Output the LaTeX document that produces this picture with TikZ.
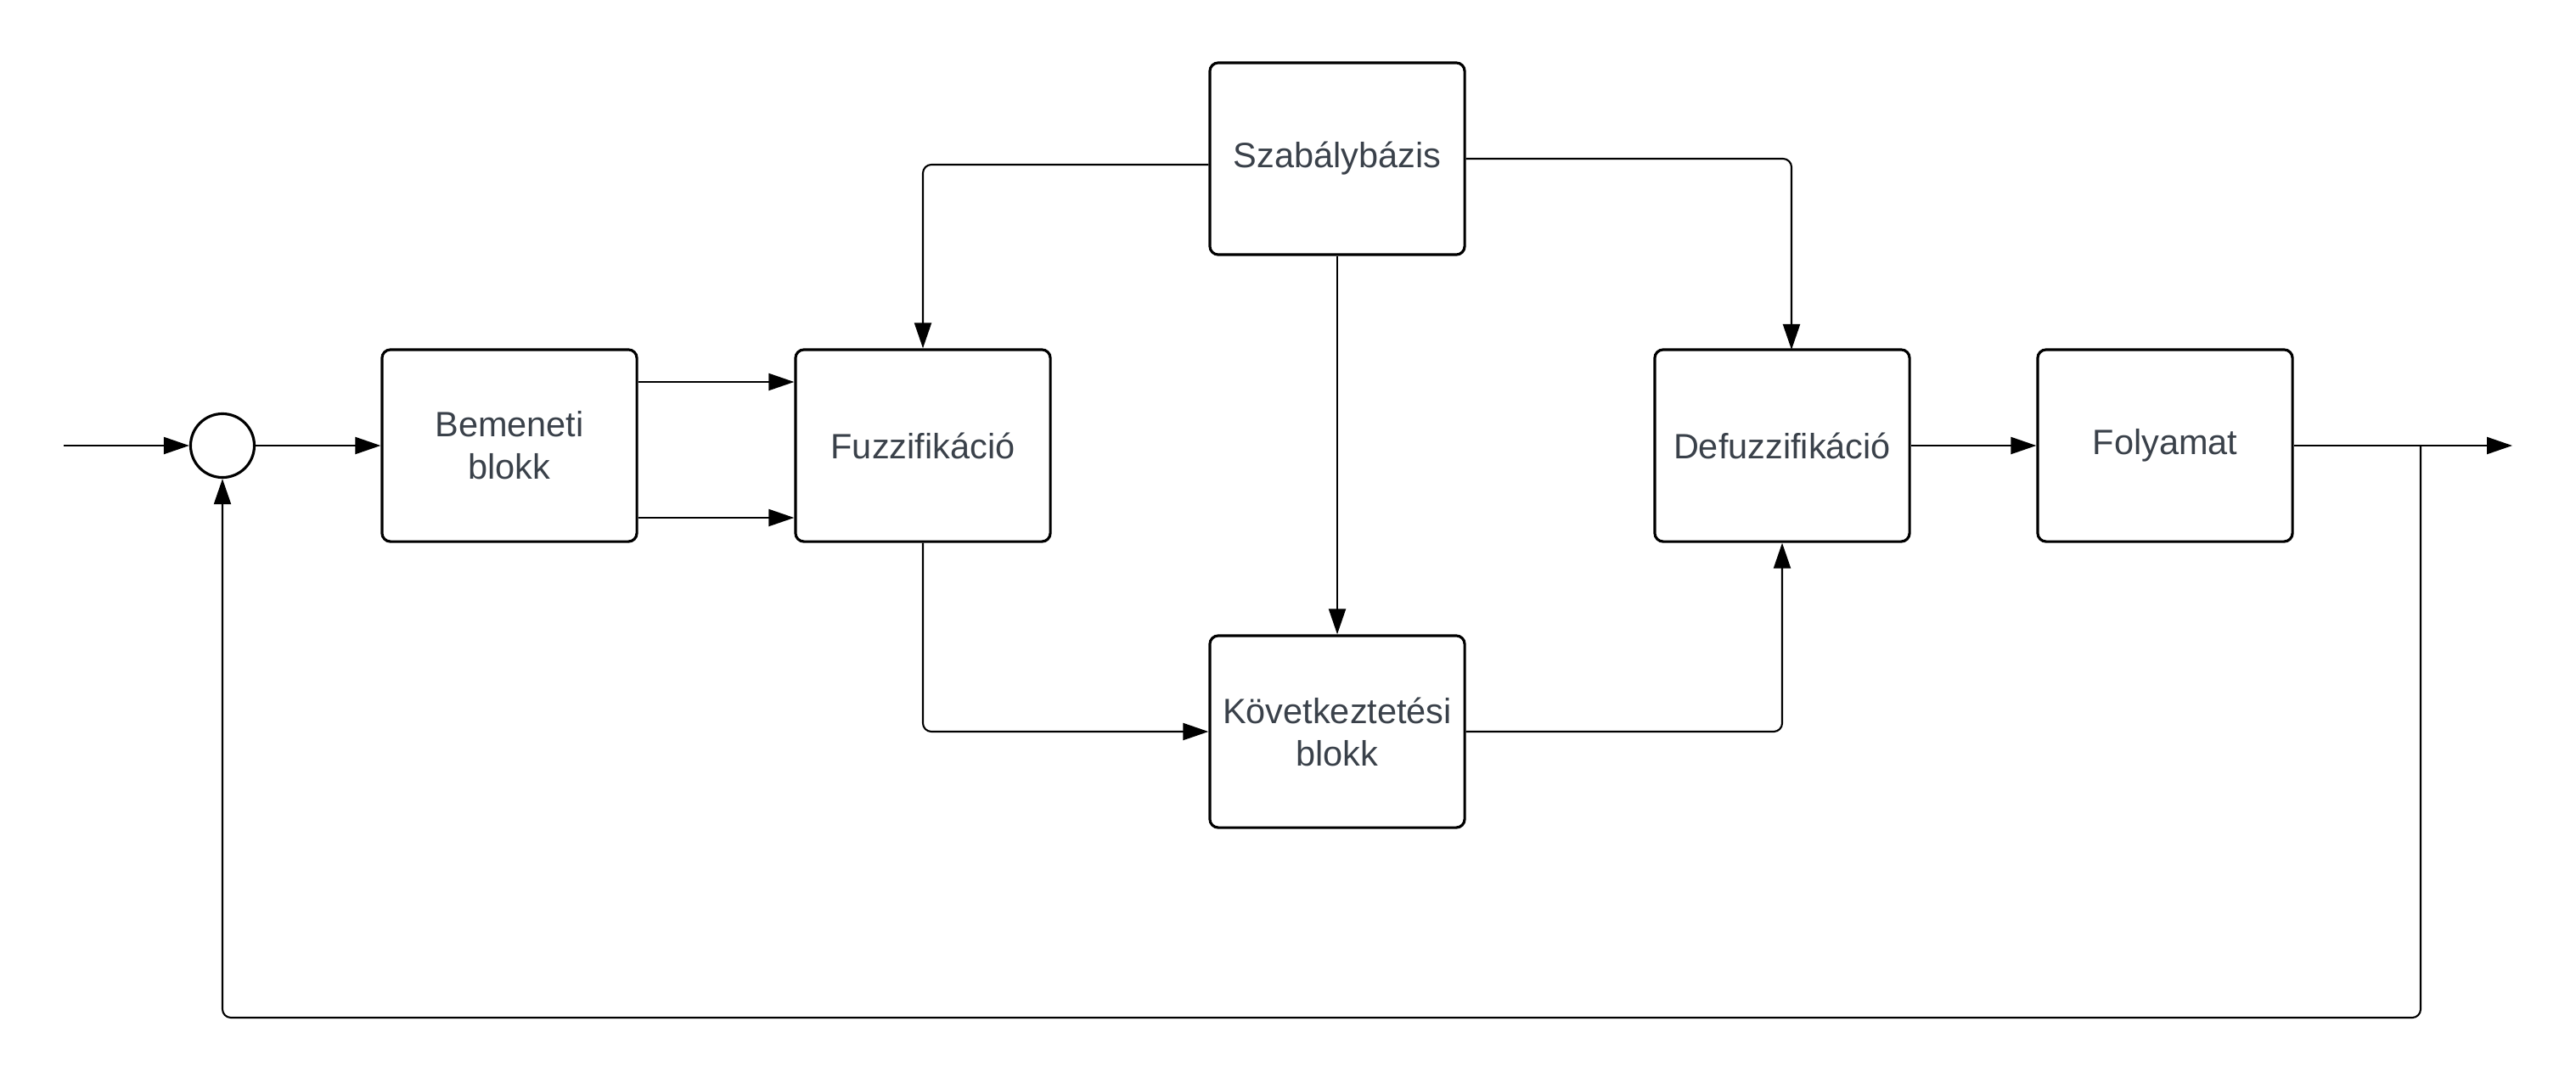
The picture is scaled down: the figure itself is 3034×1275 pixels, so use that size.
\documentclass[tikz,border=0pt]{standalone}
\usepackage{fontspec}
\setmainfont{Liberation Sans}
\usetikzlibrary{arrows.meta}
\definecolor{txt}{HTML}{3A414A}
\begin{document}
\begin{tikzpicture}[x=0.01cm,y=-0.01cm,
  blk/.style={draw=black,line width=0.9pt,rounded corners=0.1cm,
    minimum width=3cm,minimum height=2.26cm,inner sep=0pt,align=center,
    text=txt,font=\fontsize{11.8}{14.2}\selectfont},
  conn/.style={line width=0.6pt,rounded corners=0.1cm},
  arr/.style={conn,-{Triangle[length=0.3cm,width=0.2cm]}}]
\useasboundingbox (0,0) rectangle (3034,1275);

% blocks
\node[blk] (bem) at (600,525) {Bemeneti\\blokk};
\node[blk] (fuz) at (1087,525) {Fuzzifikáció};
\node[blk] (szab) at (1575,187) {Szabálybázis};
\node[blk] (kov) at (1575,862) {Következtetési\\blokk};
\node[blk] (def) at (2099,525) {Defuzzifikáció};
\node[blk] (fol) at (2550,525) {Folyamat};
\node[draw=black,line width=0.9pt,circle,minimum size=0.75cm,inner sep=0pt] (sum) at (262,525) {};

% free ends and branch points
\coordinate (in) at (75,525);
\coordinate (out) at (2959,525);
\coordinate (tap) at (2851,525);
\coordinate (fb) at (262,1199);
\coordinate (d1) at (2110,412);

% forward path
\draw[arr] (in) -- (sum.west);
\draw[arr] (sum.east) -- (bem.west);
\draw[arr] (bem.east |- 0,450) -- (fuz.west |- 0,450);
\draw[arr] (bem.east |- 0,610) -- (fuz.west |- 0,610);
\draw[arr] (szab.west |- 0,194) -| (fuz.north);
\draw[arr] (szab.east |- 0,187) -| (d1);
\draw[arr] (szab.south) -- (kov.north);
\draw[arr] (fuz.south) |- (kov.west);
\draw[arr] (kov.east) -| (def.south);
\draw[arr] (def.east) -- (fol.west);
\draw[arr] (fol.east) -- (out);

% feedback loop
\draw[arr] (tap) |- (fb) -- (sum.south);
\end{tikzpicture}
\end{document}
